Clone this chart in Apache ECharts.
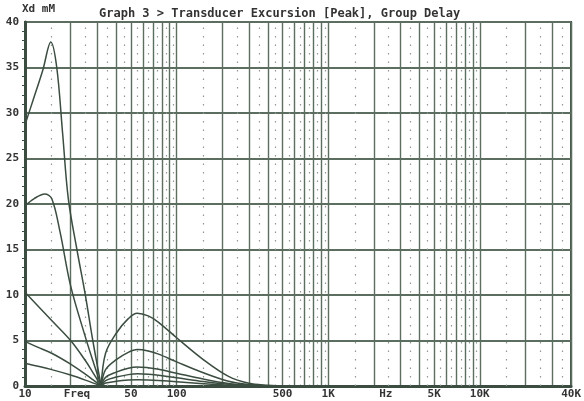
<!DOCTYPE html>
<html>
<head>
<meta charset="utf-8">
<script src="https://cdn.jsdelivr.net/npm/echarts@6/dist/echarts.min.js"></script>
<style>html,body{margin:0;padding:0;background:#fff}#c{width:584px;height:401px}</style>
</head>
<body>
<div id="c"></div>
<script>
// ---- data (frequency in Hz, excursion in mm) ----
const curveA_left = [[10,28.7],[11.3,31.4],[13.1,34.7],[14.8,37.8],[16.2,35.0],[17.7,27.8],[19.3,20.6],[22,15],[25,10],[28,5],[31.8,0]];
const curveB_left = [[10,19.8],[11.5,20.6],[13.5,21.1],[15,20.6],[17,17],[20,11],[25,5.4],[28,2.8],[31.8,0]];
const curveC_left = [[10,10.3],[12,8.9],[15,7.2],[20,5.0],[25,2.8],[28,1.5],[31.8,0]];
const curveD_left = [[10,4.9],[12,4.3],[15,3.6],[20,2.4],[25,1.3],[28,0.7],[31.8,0]];
const curveE_left = [[10,2.5],[15,1.8],[20,1.2],[25,0.65],[31.8,0]];

const curveA_right = [[31.8,0],[34,3.6],[40,5.8],[48,7.4],[55,8.0],[65,7.7],[76,7.0],[100,5.3],[150,2.9],[220,1.05],[300,0.3],[400,0.08],[500,0],[1000,0]];
const curveB_right = [[31.8,0],[34,1.8],[40,2.9],[48,3.7],[55,4.0],[65,3.85],[76,3.5],[100,2.65],[150,1.45],[220,0.52],[300,0.16],[400,0.04],[500,0],[1000,0]];
const curveC_right = [[31.8,0],[34,0.95],[40,1.53],[48,1.95],[55,2.1],[65,2.0],[76,1.83],[100,1.4],[150,0.76],[220,0.27],[300,0.08],[400,0.02],[500,0],[1000,0]];
const curveD_right = [[31.8,0],[34,0.6],[40,0.98],[48,1.25],[55,1.35],[65,1.3],[76,1.17],[100,0.9],[150,0.49],[220,0.18],[300,0.05],[400,0.01],[500,0],[1000,0]];
const curveE_right = [[31.8,0],[34,0.32],[40,0.51],[48,0.65],[55,0.7],[65,0.67],[76,0.61],[100,0.46],[150,0.25],[220,0.09],[300,0.03],[400,0],[500,0],[1000,0]];

const gridFreqs = [10,20,30,40,50,60,70,80,90,100,200,300,400,500,600,700,800,900,1000,2000,3000,4000,5000,6000,7000,8000,9000,10000,20000,30000,40000];
const dottedFreqs = [15,25,35,45,55,65,75,85,95,150,250,350,450,550,650,750,850,950,1500,2500,3500,4500,5500,6500,7500,8500,9500,15000,25000,35000];
const xLabelValues = [10,22,50,100,500,1000,2400,5000,10000,40000];
const xLabelTexts = ['10','Freq','50','100','500','1K','Hz','5K','10K','40K'];
const yTicks = [0,5,10,15,20,25,30,35,40];

// ---- chart ----
const ink = '#3b4d40';
const gridInk = '#5c6e60';
const font = 'DejaVu Sans Mono';

const chart = echarts.init(document.getElementById('c'), null, {renderer:'canvas'});

const curves = [
  curveA_left, curveA_right, curveB_left, curveB_right, curveC_left, curveC_right,
  curveD_left, curveD_right, curveE_left, curveE_right
];
const series = curves.map(d => ({
  type:'line', data:d, showSymbol:false, smooth:0.35, silent:true,
  lineStyle:{color:ink, width:1.5}, z:5
}));
// dotted minor columns
series.push({
  type:'line', data:[], silent:true,
  markLine:{
    silent:true, symbol:'none', label:{show:false},
    lineStyle:{color:'#8c9a8f', width:1.2, type:[1.5,7]},
    data: dottedFreqs.map(f => ({xAxis:f}))
  }
});

chart.setOption({
  animation:false,
  backgroundColor:'#ffffff',
  title:{
    text:'Graph 3 > Transducer Excursion [Peak], Group Delay',
    left:94, top:3,
    textStyle:{fontFamily:font, fontWeight:'bold', fontSize:12, color:'#333'}
  },
  graphic:[{
    type:'text', left:22, top:4,
    style:{text:'Xd mM', font:'bold 11px "DejaVu Sans Mono"', fill:'#333'}
  }],
  grid:{left:25, right:7, top:22, bottom:15, show:true, borderColor:ink, borderWidth:2},
  xAxis:{
    type:'log', logBase:10, min:10, max:40000,
    axisLine:{show:true, lineStyle:{color:ink, width:3}},
    axisTick:{show:false, customValues:gridFreqs},
    splitLine:{show:true, lineStyle:{color:gridInk, width:1.4}},
    axisLabel:{
      customValues:xLabelValues,
      formatter:(v)=>{ const i = xLabelValues.findIndex(x=>Math.abs(x-v)/x<1e-6); return i>=0?xLabelTexts[i]:''; },
      fontFamily:font, fontWeight:'bold', fontSize:11, color:'#333', margin:3
    }
  },
  yAxis:{
    type:'value', min:0, max:40, interval:5,
    axisLine:{show:true, lineStyle:{color:ink, width:3}},
    axisTick:{show:false},
    minorTick:{show:true, splitNumber:5, length:3, lineStyle:{color:ink, width:1}},
    splitLine:{show:true, lineStyle:{color:gridInk, width:2}},
    axisLabel:{fontFamily:font, fontWeight:'bold', fontSize:11, color:'#333', margin:6,
      formatter:(v)=> yTicks.includes(v) ? String(v) : ''}
  },
  series:series
});
</script>
</body>
</html>
